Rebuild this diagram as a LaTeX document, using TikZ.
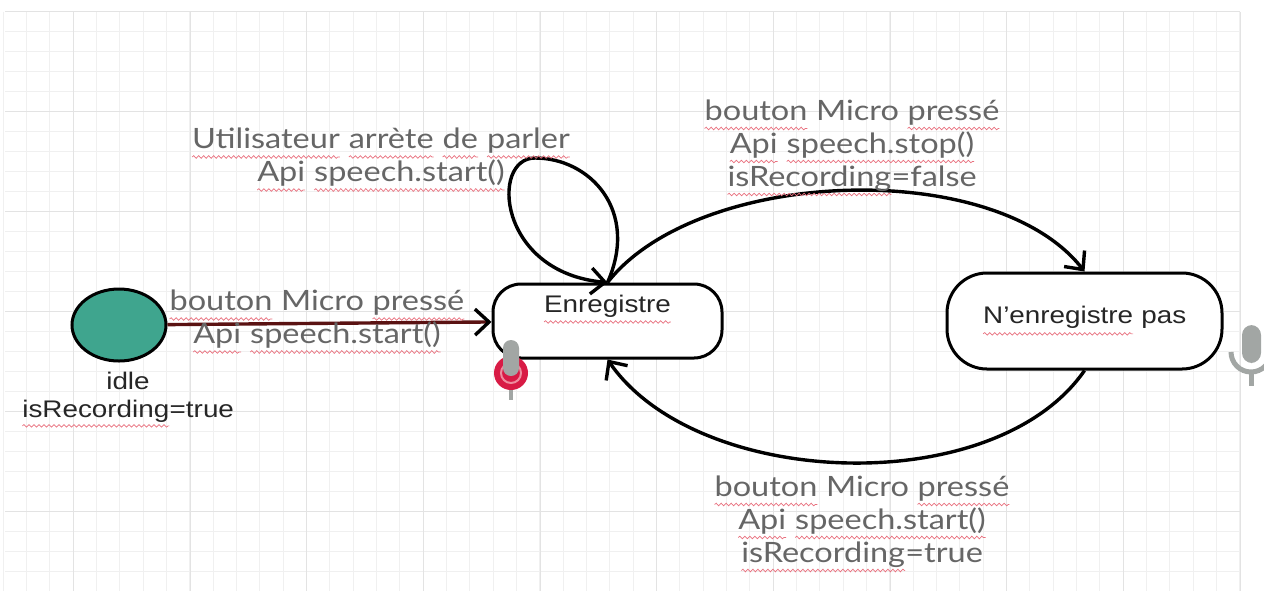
\documentclass[tikz,border=0pt]{standalone}
\usepackage{fontspec}
\setmainfont{Liberation Sans}[FakeStretch=1.16]
\newfontfamily\lab{Lato}[FakeStretch=1.16]
\usetikzlibrary{arrows.meta,shapes.geometric,decorations.pathmorphing}
\definecolor{startfill}{HTML}{3FA58E}
\definecolor{labgray}{HTML}{666666}
\definecolor{nodetext}{HTML}{262626}
\definecolor{wavecol}{HTML}{E8707E}
\definecolor{darkred}{HTML}{5A1212}
\definecolor{micred}{HTML}{D81B45}
\definecolor{micpink}{HTML}{EE8C9E}
\definecolor{micgray}{HTML}{A2A6A4}
% spell-check wave under a word
\newcommand\sq[2][4pt]{\tikz[baseline=(sqw.base), x=1pt, y=1pt, line width=0.35pt, sharp corners]{%
  \node[shape=rectangle, inner sep=0pt, outer sep=0pt, minimum size=0pt, text height=, text depth=,
    draw=none, fill=none, anchor=base] (sqw) at (0,0) {#2};
  \draw[wavecol, decorate, decoration={snake, segment length=2.5pt, amplitude=0.65pt}]
    ([yshift=-#1]sqw.base west) -- ([yshift=-#1]sqw.base east);}}
\tikzset{
  state/.style={draw, line width=1.5pt, fill=white, text=nodetext,
    font=\fontsize{12}{14}\selectfont},
  startst/.style={ellipse, draw, line width=1.5pt, fill=startfill,
    minimum width=47pt, minimum height=36pt},
  lbl/.style={font=\fontsize{14}{16.5}\selectfont\lab, text=labgray, align=center},
  note/.style={font=\fontsize{12}{14}\selectfont, text=nodetext, align=center},
  trans/.style={-{Straight Barb[length=7pt,width=13pt]}, line width=1.7pt},
  gridminor/.style={line width=0.5pt, draw=black!6},
  gridmajor/.style={line width=0.5pt, draw=black!11},
}
\begin{document}
\begin{tikzpicture}[x=0.5pt, y=-0.5pt]
\useasboundingbox (0,0) rectangle (1264,591);
% grid paper
\foreach \k in {0,...,53}
  \draw[gridminor] (3.333+23.333*\k,11.667) -- (3.333+23.333*\k,591);
\foreach \j in {0,...,28}
  \draw[gridminor] (5,11.667+20*\j) -- (1240,11.667+20*\j);
\foreach \k in {0,...,10}
  \draw[gridmajor] (73.333+116.667*\k,11.667) -- (73.333+116.667*\k,591);
\foreach \j in {0,...,5}
  \draw[gridmajor] (5,11.667+100*\j) -- (1240,11.667+100*\j);

\node[startst] (idle) at (119,325) {};
\node[note] (idlelbl) at (128,400) {idle\\\sq{isRecording}=true};
\node[state, rounded corners=14pt, minimum width=114.5pt, minimum height=37pt,
  inner sep=3pt, text height=11pt, text depth=20pt] (enr) at (607.5,321) {\sq[5pt]{Enregistre}};
\node[state, rounded corners=20pt, minimum width=137.5pt, minimum height=48pt] (nenr) at (1084.5,321) {\sq[5pt]{N'enregistre} pas};
\coordinate (looptop) at (535,158);

% microphones
\fill[micred] (511,373) circle (17);
\draw[micpink, line width=1pt] (511,373) circle (10);
\draw[micgray, line width=2pt] (511,390) -- (511,400);
\fill[micgray, rounded corners=4pt] (503,340) rectangle (519,376);
\draw[micgray, line width=2.5pt] (1251,352) ++(0:20) arc (0:180:20);
\draw[micgray, line width=2.5pt] (1251,372) -- (1251,386);
\fill[micgray, rounded corners=5pt] (1242,325) rectangle (1261,363);

% transitions
\draw[trans, draw=darkred, -{Straight Barb[length=7pt,width=13pt,color=black]}] (idle) -- (enr);
\draw[trans] (enr.north) .. controls +(32,-72) and +(55,0) .. (looptop)
  .. controls +(-45,0) and +(-110,-10) .. (enr.north);
\draw[trans] (enr.north) .. controls +(90,-115) and +(-90,-115) .. (nenr.north);
\draw[trans] (nenr.south) .. controls +(-90,130) and +(90,130) .. (enr.south);

\node[lbl] (lblstart) at (317,322) {\sq{bouton} Micro \sq{pressé}\\\sq{Api} \sq{speech.start()}};
\node[lbl] (lblloop) at (381,160) {\sq{Utilisateur} \sq{arrète} \sq{de} \sq{parler}\\\sq{Api} \sq{speech.start()}};
\node[lbl] (lbltop) at (852,148) {\sq{bouton} Micro \sq{pressé}\\\sq{Api} \sq{speech.stop()}\\\sq{isRecording}=false};
\node[lbl] (lblbot) at (862,524) {\sq{bouton} Micro \sq{pressé}\\\sq{Api} \sq{speech.start()}\\\sq{isRecording}=true};
\end{tikzpicture}
\end{document}
